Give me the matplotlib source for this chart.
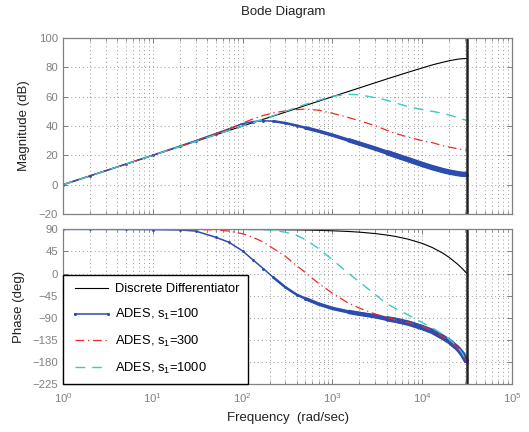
import matplotlib
matplotlib.use("Agg")
import matplotlib.pyplot as plt
from matplotlib.lines import Line2D
import numpy as np

plt.rcParams['font.family'] = ['Liberation Sans', 'DejaVu Sans']
plt.rcParams['mathtext.default'] = 'regular'

# ---------------- data ----------------
freq = [1, 2, 5, 10, 20, 30, 50, 70, 100, 130, 170, 220, 300, 400, 500, 700,
        1000, 1500, 2000, 3000, 4000, 5000, 7000, 10000, 13000, 17000, 20000,
        25000, 28000, 31416]
nyquist_freq = 31416

mag_diff = [0, 6.0, 14.0, 20.0, 26.0, 29.5, 34.0, 36.9, 40.0, 42.3, 44.6, 46.8,
            49.5, 52.0, 54.0, 56.9, 60.0, 63.5, 66.0, 69.5, 72.0, 73.9, 76.7,
            79.6, 81.7, 83.5, 84.5, 85.6, 85.9, 86.0]
mag_s100 = [0, 6.0, 14.0, 20.1, 26.3, 30.0, 34.8, 38.0, 41.6, 43.0, 43.6, 43.3,
            42.0, 40.3, 38.8, 36.5, 33.8, 30.4, 28.0, 24.6, 22.0, 20.0, 17.0,
            13.8, 11.6, 9.6, 8.6, 7.5, 7.1, 6.9]
mag_s300 = [0, 6.0, 14.0, 20.0, 26.1, 29.7, 34.5, 37.8, 42.0, 44.8, 47.2, 49.0,
            50.3, 51.2, 51.5, 50.8, 48.7, 45.8, 43.6, 40.2, 37.2, 35.0, 32.4,
            30.0, 28.6, 26.6, 25.6, 24.5, 23.9, 23.6]
mag_s1000 = [0, 6.0, 14.0, 20.0, 26.0, 29.5, 34.0, 36.9, 40.0, 42.3, 44.7, 47.1,
             50.0, 52.8, 54.8, 57.5, 60.3, 61.6, 61.3, 59.3, 57.7, 55.8, 53.2,
             51.2, 50.0, 48.6, 47.5, 45.6, 44.6, 44.0]

ph_diff = [90, 90, 90, 90, 89.9, 89.9, 89.9, 89.8, 89.7, 89.6, 89.5, 89.4,
           89.1, 88.9, 88.6, 88.0, 87.1, 85.7, 84.3, 81.4, 78.5, 75.7, 69.9,
           61.4, 52.8, 41.3, 32.7, 18.4, 9.8, 0]
ph_s100 = [90, 90, 89.8, 89.5, 88.8, 86.5, 74, 64, 46, 28, 10, -8,
           -28, -43, -51, -62, -71, -78, -82, -87, -92, -95, -101,
           -110, -118, -130, -138, -153, -164, -180]
ph_s300 = [90, 90, 90, 90, 89.8, 89.5, 89, 86.5, 81, 74, 64, 51,
           35, 16, 2, -20, -40, -60, -70.5, -82.5, -89, -94, -100,
           -108, -116, -129, -137, -152, -164, -180]
ph_s1000 = [90, 90, 90, 90, 90, 90, 90, 90, 90, 89.8, 89.5, 88.5,
            84, 78, 69, 51, 28, 1, -17, -43, -61, -71, -84.5,
            -100, -111, -124, -134, -150, -163, -180]

labels = ['Discrete Differentiator', 'ADES, s$_1$=100', 'ADES, s$_1$=300',
          'ADES, s$_1$=1000']
mag_ticks = [-20, 0, 20, 40, 60, 80, 100]
ph_ticks = [-225, -180, -135, -90, -45, 0, 45, 90]

# ---------------- styling ----------------
c_black = '#000000'
c_blue = '#2c4cae'
c_red = '#f02828'
c_cyan = '#3cc8c8'
grey = '#808080'
dashdot = (0, (7, 3, 1, 3))
dashed = (0, (7, 5))

fig = plt.figure(figsize=(5.29, 4.32), dpi=100)
ax1 = fig.add_axes([0.119, 0.5046, 0.849, 0.4074])
ax2 = fig.add_axes([0.119, 0.1111, 0.849, 0.358])

f = np.array(freq)

def draw(ax, d, s100, s300, s1000):
    s100 = np.array(s100)
    ax.plot(f, d, color=c_black, lw=0.8, label=labels[0])
    ax.plot(f, s100, color=c_blue, lw=1.1, marker='.', ms=2.2, label=labels[1])
    for fmin, lw in ((200, 1.8), (500, 2.5), (1500, 3.2), (4000, 3.9)):
        m = f >= fmin
        ax.plot(f[m], s100[m], color=c_blue, lw=lw, solid_capstyle='butt')
    ax.plot(f, s300, color=c_red, lw=0.9, linestyle=dashdot, label=labels[2])
    ax.plot(f, s1000, color=c_cyan, lw=1.0, linestyle=dashed, label=labels[3])
    ax.axvline(nyquist_freq, color='#222222', lw=1.8)

draw(ax1, mag_diff, mag_s100, mag_s300, mag_s1000)
draw(ax2, ph_diff, ph_s100, ph_s300, ph_s1000)

for ax in (ax1, ax2):
    ax.set_xscale('log')
    ax.set_xlim(1, 1e5)
    for sp in ax.spines.values():
        sp.set_color(grey)
        sp.set_linewidth(0.9)
    ax.tick_params(which='both', direction='in', top=True, right=True,
                   colors=grey, labelsize=8.2, labelcolor=grey)
    ax.tick_params(which='major', length=3.5, width=0.7)
    ax.tick_params(which='minor', length=2, width=0.6)
    ax.tick_params(axis='x', which='major', pad=5)
    ax.grid(True, which='major', color='#9a9a9a', linestyle=(0, (1, 3)), lw=0.7)
    ax.grid(True, which='minor', axis='x', color='#9a9a9a', linestyle=(0, (1, 3)), lw=0.7)
    ax.set_axisbelow(True)

ax1.set_ylim(-20, 100)
ax1.set_yticks(mag_ticks)
ax1.tick_params(labelbottom=False)
ax1.set_ylabel('Magnitude (dB)', fontsize=9.5, color='#222222', labelpad=6)

ax2.set_ylim(-225, 90)
ax2.set_yticks(ph_ticks)
ax2.set_ylabel('Phase (deg)', fontsize=9.5, color='#222222', labelpad=5)
ax2.set_xlabel('Frequency  (rad/sec)', fontsize=9.5, color='#222222', labelpad=5)

fig.suptitle('Bode Diagram', x=0.535, y=0.985, fontsize=9.5, color='#222222')

handles = [Line2D([], [], color=c_black, lw=0.8),
           Line2D([], [], color=c_blue, lw=1.1, marker='.', ms=2.5),
           Line2D([], [], color=c_red, lw=0.9, linestyle=dashdot),
           Line2D([], [], color=c_cyan, lw=1.0, linestyle=dashed)]
leg = ax2.legend(handles, labels, loc='lower left', borderaxespad=0,
                 fontsize=9.3, numpoints=2, handlelength=3.1,
                 handletextpad=0.25, labelspacing=0.9, borderpad=0.65,
                 fancybox=False, framealpha=1, edgecolor='black')
leg.get_frame().set_linewidth(1.0)

fig.savefig('out.png', dpi=100)
